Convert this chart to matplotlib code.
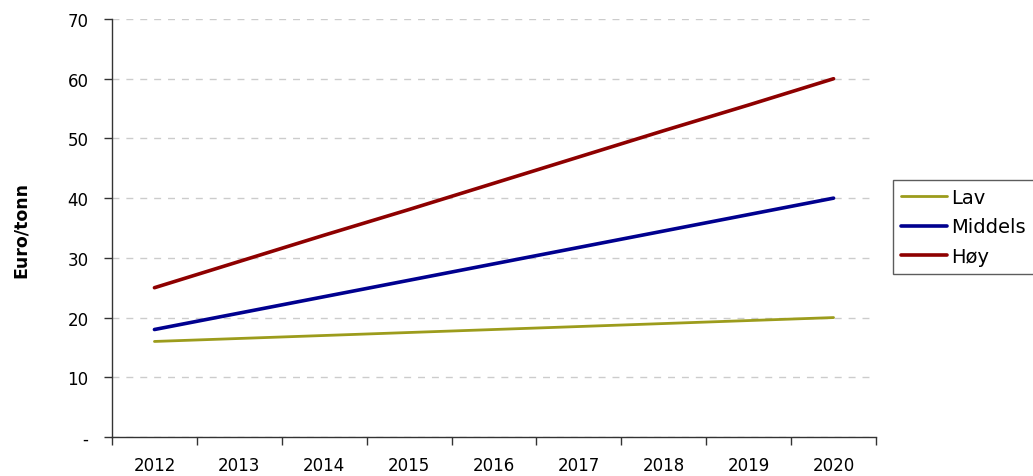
import matplotlib
matplotlib.use("Agg")
import matplotlib.pyplot as plt

plt.rcParams['font.family'] = ['DejaVu Sans']

# Prisbaner for CO2, Euro/tonn
years = ['2012', '2013', '2014', '2015', '2016', '2017', '2018', '2019', '2020']
lav = [16.0, 16.5, 17.0, 17.5, 18.0, 18.5, 19.0, 19.5, 20.0]
middels = [18.0, 20.75, 23.5, 26.25, 29.0, 31.75, 34.5, 37.25, 40.0]
hoy = [25.0, 29.4, 33.8, 38.1, 42.5, 46.9, 51.3, 55.6, 60.0]

y_ticks = [0, 10, 20, 30, 40, 50, 60, 70]
y_labels = ['-', '10', '20', '30', '40', '50', '60', '70']

fig = plt.figure(figsize=(10.33, 4.77), dpi=100)
ax = fig.add_axes([112 / 1033, 1 - 438 / 477, 764 / 1033, 418 / 477])

x = range(len(years))
ax.plot(x, lav, color='#9c9c1c', lw=2.0, label='Lav', solid_capstyle='round')
ax.plot(x, middels, color='#00008f', lw=2.6, label='Middels', solid_capstyle='round')
ax.plot(x, hoy, color='#8e0000', lw=2.6, label='Høy', solid_capstyle='round')

ax.set_xlim(-0.5, len(years) - 0.5)
ax.set_ylim(0, 70)

# kategoriakse: etiketter midt i feltet, streker mellom kategoriene
ax.set_xticks([i + 0.5 for i in range(-1, len(years))])
ax.set_xticklabels([])
ax.set_xticks(list(x), minor=True)
ax.set_xticklabels(years, minor=True, fontsize=12)
ax.tick_params(axis='x', which='major', direction='out', length=6, width=1, color='#333333')
ax.tick_params(axis='x', which='minor', length=0, pad=14)

ax.set_yticks(y_ticks)
ax.set_yticklabels(y_labels, fontsize=12)
ax.tick_params(axis='y', direction='out', length=6, width=1, color='#333333', pad=11)

ax.yaxis.grid(True, linestyle=(0, (5, 5)), color='#cccccc', lw=1)
ax.set_axisbelow(True)

for side in ['top', 'right']:
    ax.spines[side].set_visible(False)
for side in ['left', 'bottom']:
    ax.spines[side].set_color('#333333')
    ax.spines[side].set_linewidth(1)

fig.text(21 / 1033, 1 - 230 / 477, 'Euro/tonn', rotation=90, fontsize=12.5,
         fontweight='bold', ha='center', va='center')

leg = fig.legend(loc='upper left', bbox_to_anchor=(893 / 1033, 1 - 181 / 477),
                 fontsize=14, frameon=True, fancybox=False, handlelength=2.4,
                 handletextpad=0.2, labelspacing=0.55, borderpad=0.4,
                 borderaxespad=0)
leg.get_frame().set_edgecolor('#333333')
leg.get_frame().set_linewidth(1)

fig.savefig('out.png', dpi=100)
